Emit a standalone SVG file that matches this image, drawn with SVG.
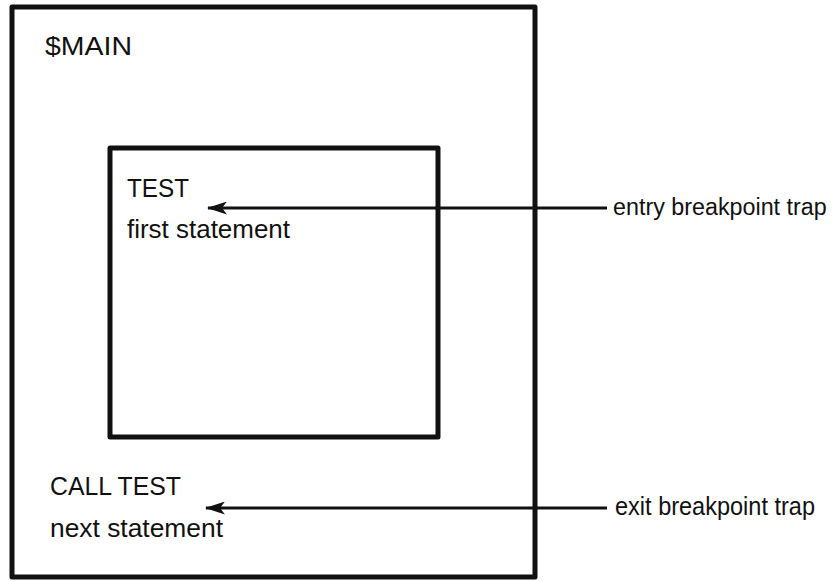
<svg xmlns="http://www.w3.org/2000/svg" width="839" height="581" viewBox="0 0 839 581">
<style>
.box{fill:none;stroke:#111;stroke-width:5;stroke-linejoin:round}
.t{font-family:"Liberation Sans",Arial,sans-serif;font-size:26px;fill:#111}
.c{stroke:#111;stroke-width:2.8;fill:none}
</style>
<defs>
<marker id="ah" viewBox="0 0 20 13" refX="19" refY="6.5" markerWidth="20" markerHeight="13" markerUnits="userSpaceOnUse" orient="auto">
<path d="M0,0 L20,6.5 L0,13 L5,6.5 Z" fill="#111"/>
</marker>
</defs>
<rect width="839" height="581" fill="#fff"/>
<g id="main">
<rect class="box" x="12" y="7" width="523" height="570"/>
<text class="t" x="45" y="55" textLength="87" lengthAdjust="spacingAndGlyphs">$MAIN</text>
<text class="t" x="50" y="495" textLength="131" lengthAdjust="spacingAndGlyphs">CALL TEST</text>
<text class="t" x="50" y="537" textLength="173" lengthAdjust="spacingAndGlyphs">next statement</text>
</g>
<g id="test">
<rect class="box" x="110" y="148" width="328" height="289"/>
<text class="t" x="127" y="197" textLength="62" lengthAdjust="spacingAndGlyphs">TEST</text>
<text class="t" x="127" y="238" textLength="163" lengthAdjust="spacingAndGlyphs">first statement</text>
</g>
<g id="entry-label">
<text class="t" x="613" y="215" style="font-size:23.3px">entry breakpoint trap</text>
</g>
<g id="exit-label">
<text class="t" x="615" y="515" textLength="200" lengthAdjust="spacingAndGlyphs">exit breakpoint trap</text>
</g>
<g id="connectors">
<line class="c" x1="607" y1="208" x2="208" y2="208" marker-end="url(#ah)"/>
<line class="c" x1="607" y1="508" x2="206" y2="508" marker-end="url(#ah)"/>
</g>
</svg>
